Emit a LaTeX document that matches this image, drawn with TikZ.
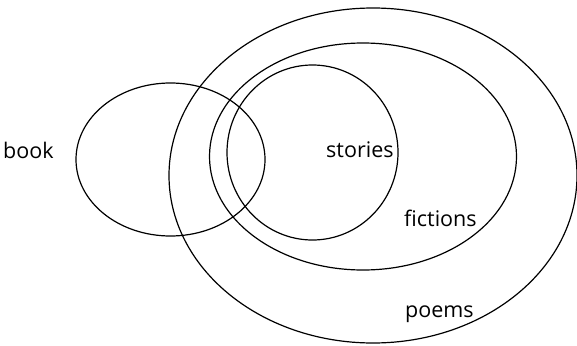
\documentclass[tikz,border=0pt]{standalone}
\usepackage{fontspec}
\setmainfont{Open Sans}
\begin{document}
\begin{tikzpicture}[x=1pt,y=-1pt,
  ring/.style={draw=black,line width=1.2pt},
  lbl/.style={anchor=base west,inner sep=0pt,text=black,font=\fontsize{21.5}{24}\selectfont}]
\useasboundingbox (0,0) rectangle (577,345);
\draw[ring] (170.5,159.5) ellipse [x radius=94.5, y radius=76.5];
\draw[ring] (373,175.5) ellipse [x radius=204, y radius=167.5];
\draw[ring] (363,156.5) ellipse [x radius=153.5, y radius=113.5];
\draw[ring] (312.5,152.5) ellipse [x radius=85.5, y radius=87.5];
\node[lbl] (book) at (3,158) {book};
\node[lbl] (stories) at (326,157) {stories};
\node[lbl] (fictions) at (404,226) {fictions};
\node[lbl] (poems) at (405,317) {poems};
\end{tikzpicture}
\end{document}
